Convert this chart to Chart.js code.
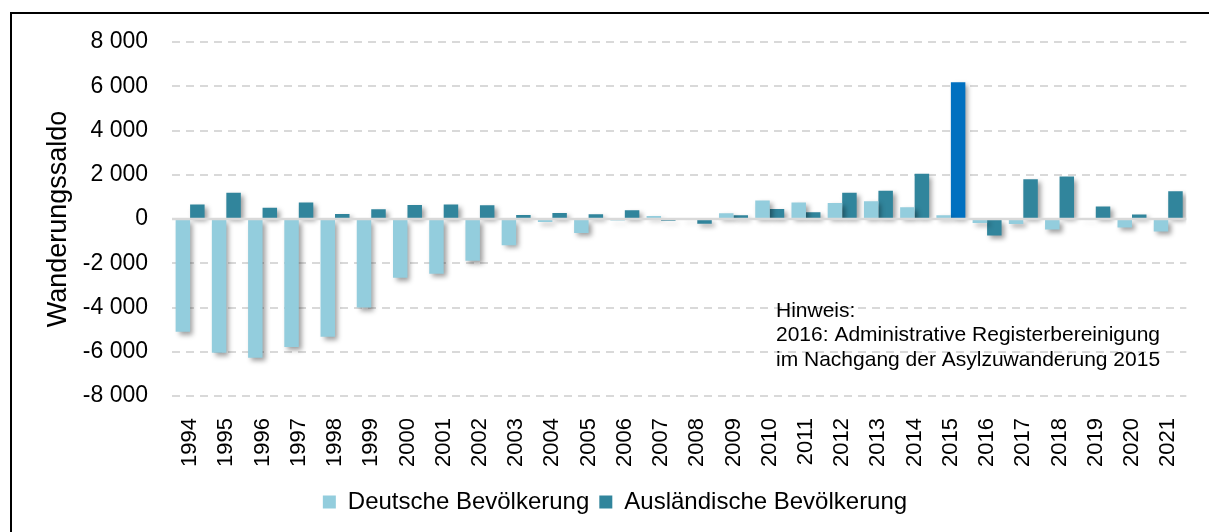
<!DOCTYPE html>
<html>
<head>
<meta charset="utf-8">
<script src="https://cdn.jsdelivr.net/npm/chart.js@4.4.1/dist/chart.umd.min.js"></script>
<style>
  html, body { margin: 0; padding: 0; background: #fff; overflow: hidden; }
  #frame { position: absolute; left: 10px; top: 12px; width: 1400px; height: 700px; border: 2px solid #000; }
  #wrap { position: absolute; left: 0; top: 0; width: 1209px; height: 532px; }
</style>
</head>
<body>
<div id="frame"></div>
<div id="wrap"><canvas id="chart" width="1209" height="532"></canvas></div>
<script>
const years = ['1994', '1995', '1996', '1997', '1998', '1999', '2000', '2001', '2002', '2003',
  '2004', '2005', '2006', '2007', '2008', '2009', '2010', '2011', '2012', '2013',
  '2014', '2015', '2016', '2017', '2018', '2019', '2020', '2021'];
const deutsche = [-5100, -6050, -6270, -5790, -5320, -4000, -2660, -2470, -1890, -1190,
  -140, -630, -70, 130, -20, 260, 840, 750, 720, 800,
  530, 170, -180, -230, -480, -30, -380, -560];
const auslaender = [650, 1190, 510, 750, 230, 440, 630, 650, 620, 180,
  270, 210, 390, -80, -210, 170, 450, 300, 1190, 1280,
  2050, 6180, -750, 1800, 1920, 570, 200, 1250];
const yTicks = [-8000, -6000, -4000, -2000, 0, 2000, 4000, 6000, 8000];
const hinweis = ['Hinweis:', '2016: Administrative Registerbereinigung', 'im Nachgang der Asylzuwanderung 2015'];

const FONT = '"Liberation Sans", Arial, sans-serif';

function fmt(v) {
  const s = String(Math.abs(v)).replace(/\B(?=(\d{3})+(?!\d))/g, ' ');
  return v < 0 ? '-' + s : s;
}

// bar shadows, zero line and the note
const extras = {
  id: 'extras',
  beforeDatasetsDraw(chart) {
    const ctx = chart.ctx;
    ctx.save();
    ctx.shadowColor = 'rgba(0,0,0,0.38)';
    ctx.shadowBlur = 5;
    ctx.shadowOffsetX = 3;
    ctx.shadowOffsetY = 3;
  },
  afterDatasetsDraw(chart) {
    const ctx = chart.ctx;
    ctx.restore();
    const y0 = chart.scales.y.getPixelForValue(0);
    ctx.save();
    ctx.strokeStyle = '#d9d9d9';
    ctx.lineWidth = 2.5;
    ctx.beginPath();
    ctx.moveTo(chart.chartArea.left, y0);
    ctx.lineTo(chart.chartArea.right, y0);
    ctx.stroke();
    ctx.restore();
  },
  afterDraw(chart) {
    const ctx = chart.ctx;
    ctx.save();
    ctx.font = '21px ' + FONT;
    ctx.fillStyle = '#000';
    ctx.textBaseline = 'middle';
    hinweis.forEach((t, i) => ctx.fillText(t, 776, 311 + i * 24.5));
    ctx.restore();
  }
};

new Chart(document.getElementById('chart'), {
  type: 'bar',
  data: {
    labels: years,
    datasets: [
      {
        label: 'Deutsche Bevölkerung',
        data: deutsche,
        backgroundColor: '#93cddd',
        categoryPercentage: 0.8,
        barPercentage: 1.0
      },
      {
        label: 'Ausländische Bevölkerung',
        data: auslaender,
        backgroundColor: c => (c.type === 'data' && years[c.dataIndex] === '2015') ? '#0070c0' : '#31859c',
        categoryPercentage: 0.8,
        barPercentage: 1.0
      }
    ]
  },
  options: {
    responsive: false,
    animation: false,
    layout: { padding: { left: 42, right: 21, top: 42, bottom: 8 } },
    plugins: {
      tooltip: { enabled: false },
      legend: {
        position: 'bottom',
        labels: {
          font: { family: FONT, size: 24 },
          color: '#000',
          boxWidth: 13,
          boxHeight: 13,
          padding: 10
        }
      }
    },
    scales: {
      x: {
        grid: { display: false },
        border: { display: false },
        ticks: {
          font: { family: FONT, size: 22 },
          color: '#000',
          minRotation: 90,
          maxRotation: 90,
          padding: 14,
          autoSkip: false
        },
        afterFit(scale) { scale.height = 84; }
      },
      y: {
        min: -8000,
        max: 8000,
        afterBuildTicks(scale) { scale.ticks = yTicks.map(v => ({ value: v })); },
        grid: {
          color: c => c.tick && c.tick.value === 0 ? 'rgba(0,0,0,0)' : '#d9d9d9',
          lineWidth: 2,
          drawTicks: false
        },
        border: { display: false, dash: [8, 6] },
        ticks: {
          font: { family: FONT, size: 23 },
          color: '#000',
          padding: 24,
          callback: v => fmt(v)
        },
        title: {
          display: true,
          text: 'Wanderungssaldo',
          font: { family: FONT, size: 27 },
          color: '#000',
          padding: 0
        },
        afterFit(scale) { scale.width = 130; }
      }
    }
  },
  plugins: [extras]
});
</script>
</body>
</html>
